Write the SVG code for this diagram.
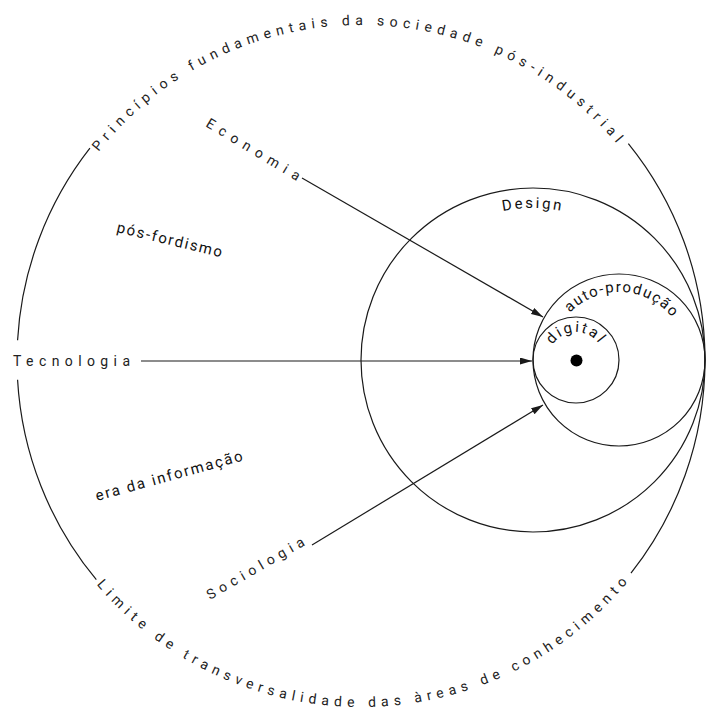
<svg xmlns="http://www.w3.org/2000/svg" width="713" height="715" viewBox="0 0 713 715">
<style>
.ln{fill:none;stroke:#1a1a1a;stroke-width:1.2}
.arr{fill:none;stroke:#1a1a1a;stroke-width:1.2;marker-end:url(#ah)}
.outer{font-family:Roboto,"Liberation Sans",sans-serif;font-size:14px;fill:#222}
.inner{font-family:Roboto,"Liberation Sans",sans-serif;font-size:15px;fill:#111}
</style>
<defs>
<marker id="ah" markerUnits="userSpaceOnUse" markerWidth="13" markerHeight="8" refX="12" refY="3.5" orient="auto">
<path d="M0,0 L12,3.5 L0,7 z" fill="#1a1a1a"/>
</marker>
<path id="pTop" d="M86.58,167.85 A335,335 0 0 1 632.02,163.09"/>
<path id="pBot" d="M82.78,567.38 A347,347 0 0 0 644.20,560.52"/>
<path id="pDesign" d="M381,360 A152,152 0 0 1 685,360"/>
<path id="pAuto" d="M551,360 A68,68 0 0 1 687,360"/>
<path id="pDig" d="M548,360 A28,28 0 0 1 604,360"/>
</defs>

<g id="boundary">
<path class="ln" d="M89.92,148.21 A344,344 0 0 0 17.57,340.2"/>
<path class="ln" d="M17.57,379.8 A344,344 0 0 0 96.33,579.74"/>
<path class="ln" d="M628.34,143.51 A344,344 0 0 1 630.96,573.17"/>
<text class="outer" letter-spacing="5.3"><textPath href="#pTop" startOffset="50%" text-anchor="middle">Princípios fundamentais da sociedade pós-industrial</textPath></text>
<text class="outer" letter-spacing="5.2"><textPath href="#pBot" startOffset="50%" text-anchor="middle">Limite de transversalidade das àreas de conhecimento</textPath></text>
</g>

<g id="design">
<circle class="ln" cx="533" cy="360" r="172"/>
<text class="inner" letter-spacing="2.5"><textPath href="#pDesign" startOffset="50%" text-anchor="middle">Design</textPath></text>
</g>

<g id="auto-producao">
<circle class="ln" cx="619" cy="360" r="86"/>
<text class="inner" font-size="14" letter-spacing="1.5"><textPath href="#pAuto" startOffset="51.7%" text-anchor="middle">auto-produção</textPath></text>
</g>

<g id="digital">
<circle class="ln" cx="576" cy="360" r="43"/>
<circle cx="576.5" cy="360.5" r="6" fill="#000"/>
<text class="inner" letter-spacing="2.2"><textPath href="#pDig" startOffset="50%" text-anchor="middle">digital</textPath></text>
</g>

<g id="economia">
<text class="outer" letter-spacing="6.4" transform="translate(205,126) rotate(31)">Economia</text>
</g>
<g id="tecnologia">
<text class="outer" letter-spacing="5.4" x="13" y="366">Tecnologia</text>
</g>
<g id="sociologia">
<text class="outer" letter-spacing="5" transform="translate(210,600) rotate(-30)">Sociologia</text>
</g>
<g id="pos-fordismo">
<text class="inner" font-size="16" letter-spacing="1.7" transform="translate(116,232) rotate(13.5)">pós-fordismo</text>
</g>
<g id="era-informacao">
<text class="inner" font-size="16" letter-spacing="1.9" transform="translate(97,501) rotate(-15.5)">era da informação</text>
</g>

<g id="connectors">
<path class="arr" d="M302,178 L543,317"/>
<path class="arr" d="M141,361 L532,361"/>
<path class="arr" d="M312,545 L543,405"/>
</g>
</svg>
